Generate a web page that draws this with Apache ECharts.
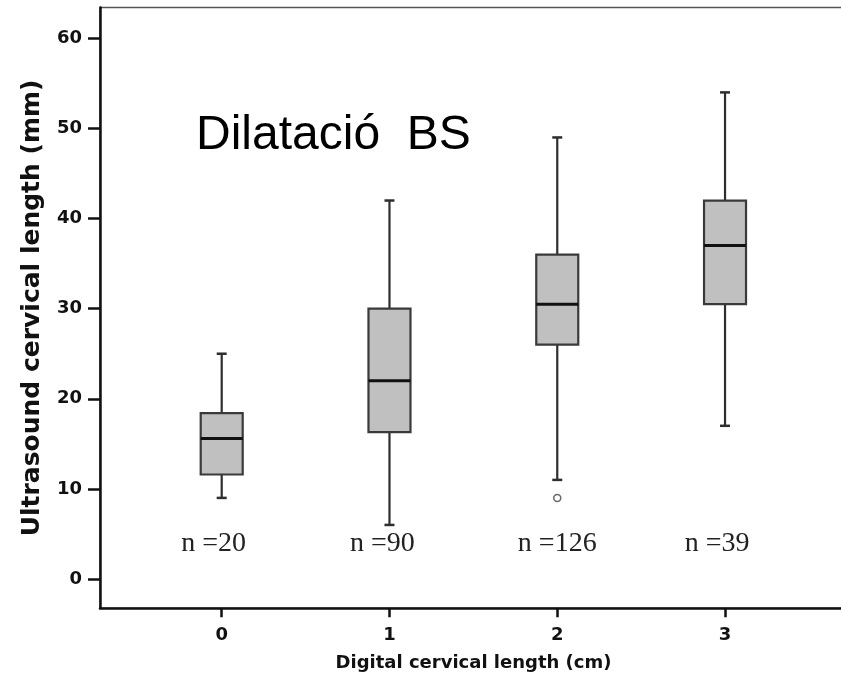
<!DOCTYPE html>
<html>
<head>
<meta charset="utf-8">
<script src="https://cdn.jsdelivr.net/npm/echarts@6/dist/echarts.min.js"></script>
<style>
html,body{margin:0;padding:0;background:#fff;}
#chart{width:841px;height:677px;}
</style>
</head>
<body>
<div id="chart"></div>
<script>
// ---- data ----
var groups   = [0, 1, 2, 3];
var whiskLow = [9, 6, 11, 17];
var q1s      = [11.6, 16.3, 26, 30.5];
var medians  = [15.6, 22, 30.5, 37];
var q3s      = [18.4, 30, 36, 42];
var whiskHigh= [25, 42, 49, 54];
var outliers = [[2, 9]];
var nCounts  = [20, 90, 126, 39];
var yTicks   = [0, 10, 20, 30, 40, 50, 60];
var xTicks   = [0, 1, 2, 3];
var titleText = 'Dilatació  BS';

// ---- build ----
var boxData = groups.map(function (g, i) {
  return [g, whiskLow[i], q1s[i], medians[i], q3s[i], whiskHigh[i]];
});
var nData = groups.map(function (g, i) { return [g, nCounts[i]]; });
var nLabelOffsets = [-8, -7, 0, -8];

var chart = echarts.init(document.getElementById('chart'), null, {renderer: 'canvas'});
var sans = '"DejaVu Sans", Verdana, sans-serif';

var option = {
  backgroundColor: '#ffffff',
  animation: false,
  title: {
    text: titleText,
    left: 196, top: 112, padding: 0,
    textStyle: {fontFamily: '"Liberation Sans", Arial, sans-serif', fontSize: 48, fontWeight: 'normal', color: '#000'}
  },
  grid: {
    left: 100, top: 7.5, width: 747, height: 600.8,
    outerBoundsMode: 'none', containLabel: false,
    show: true, borderColor: '#555', borderWidth: 1.5, backgroundColor: 'transparent'
  },
  xAxis: {
    type: 'value', min: -0.7254, max: 3.727,
    name: 'Digital cervical length (cm)', nameLocation: 'middle', nameGap: 46,
    nameTextStyle: {fontFamily: sans, fontSize: 18, fontWeight: 'bold', color: '#111'},
    axisLine: {show: true, onZero: false, lineStyle: {color: '#111', width: 2.5}},
    axisTick: {show: true, length: 9, lineStyle: {color: '#111', width: 2.5}, customValues: xTicks},
    axisLabel: {fontFamily: sans, fontSize: 18, fontWeight: 'bold', color: '#111', margin: 18, customValues: xTicks},
    splitLine: {show: false}
  },
  yAxis: {
    type: 'value', min: -3.25, max: 63.42,
    name: 'Ultrasound cervical length (mm)', nameLocation: 'middle', nameGap: 55, nameRotate: 90,
    nameTextStyle: {fontFamily: sans, fontSize: 25, fontWeight: 'bold', color: '#111'},
    axisLine: {show: true, onZero: false, lineStyle: {color: '#111', width: 2.5}},
    axisTick: {show: true, length: 12, lineStyle: {color: '#111', width: 2.5}, customValues: yTicks},
    axisLabel: {fontFamily: sans, fontSize: 18, fontWeight: 'bold', color: '#111', margin: 18, customValues: yTicks},
    splitLine: {show: false}
  },
  series: [
    {
      type: 'custom',
      name: 'box',
      data: boxData,
      encode: {x: 0, y: [1, 2, 3, 4, 5]},
      renderItem: function (params, api) {
        var x = api.value(0);
        var pMin = api.coord([x, api.value(1)]);
        var pQ1 = api.coord([x, api.value(2)]);
        var pMed = api.coord([x, api.value(3)]);
        var pQ3 = api.coord([x, api.value(4)]);
        var pMax = api.coord([x, api.value(5)]);
        var cx = pMed[0];
        var hw = 21, cap = 5;
        var lineStyle = {stroke: '#2e2e2e', lineWidth: 2.2};
        return {
          type: 'group',
          children: [
            {type: 'line', shape: {x1: cx, y1: pQ3[1], x2: cx, y2: pMax[1]}, style: lineStyle},
            {type: 'line', shape: {x1: cx, y1: pQ1[1], x2: cx, y2: pMin[1]}, style: lineStyle},
            {type: 'line', shape: {x1: cx - cap, y1: pMax[1], x2: cx + cap, y2: pMax[1]}, style: {stroke: '#2e2e2e', lineWidth: 2.5}},
            {type: 'line', shape: {x1: cx - cap, y1: pMin[1], x2: cx + cap, y2: pMin[1]}, style: {stroke: '#2e2e2e', lineWidth: 2.5}},
            {type: 'rect', shape: {x: cx - hw, y: pQ3[1], width: hw * 2, height: pQ1[1] - pQ3[1]},
             style: {fill: '#c0c0c0', stroke: '#3a3a3a', lineWidth: 2.2}},
            {type: 'line', shape: {x1: cx - hw, y1: pMed[1], x2: cx + hw, y2: pMed[1]}, style: {stroke: '#111', lineWidth: 3}}
          ]
        };
      },
      z: 3
    },
    {
      type: 'scatter',
      name: 'outliers',
      data: outliers,
      symbol: 'circle',
      symbolSize: 7,
      itemStyle: {color: '#fff', borderColor: '#444', borderWidth: 1.5},
      z: 4
    },
    {
      type: 'custom',
      name: 'n',
      data: nData,
      encode: {x: 0},
      renderItem: function (params, api) {
        var p = api.coord([api.value(0), 3.9]);
        return {
          type: 'text',
          x: p[0] + nLabelOffsets[params.dataIndex],
          y: p[1],
          style: {
            text: 'n =' + api.value(1),
            fontFamily: '"Liberation Serif", "Times New Roman", serif',
            fontSize: 28,
            fill: '#222',
            align: 'center',
            verticalAlign: 'middle'
          }
        };
      },
      z: 5
    }
  ]
};
chart.setOption(option);
</script>
</body>
</html>
